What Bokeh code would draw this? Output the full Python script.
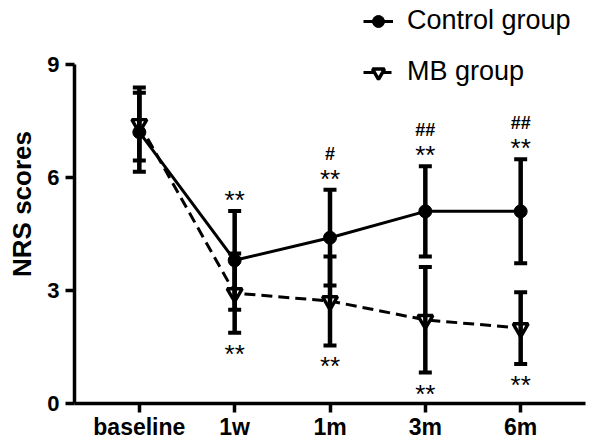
from bokeh.plotting import figure
from bokeh.models import (ColumnDataSource, FactorRange, FixedTicker, Legend, LegendItem)
from bokeh.core.properties import value
from bokeh.embed import file_html
from bokeh.resources import INLINE

categories = ["baseline", "1w", "1m", "3m", "6m"]
control_mean = [7.2, 3.8, 4.4, 5.1, 5.1]
control_sd = [1.05, 1.31, 1.27, 1.2, 1.38]
mb_mean = [7.42, 2.93, 2.72, 2.22, 2.0]
mb_sd = [0.97, 1.05, 1.18, 1.4, 0.95]
sig_top = ["**", "**", "**", "**"]
sig_hash = ["#", "##", "##"]
sig_bottom = ["**", "**", "**", "**"]

FONT = "Liberation Sans"

p = figure(width=589, height=442, output_backend="svg", toolbar_location=None,
           x_range=FactorRange(factors=categories, range_padding=0.18,
                               range_padding_units="absolute"),
           y_range=(0, 10.59), min_border_left=74, min_border_right=4,
           min_border_top=4, min_border_bottom=39)
p.outline_line_color = None
p.xgrid.grid_line_color = None
p.ygrid.grid_line_color = None
p.background_fill_color = "white"

mb_src = ColumnDataSource(dict(x=categories, y=mb_mean))
ctl_src = ColumnDataSource(dict(x=categories, y=control_mean))

mb_line = p.line(x="x", y="y", source=mb_src, line_color="black",
                 line_width=3, line_dash="11 6")
ctl_line = p.line(x="x", y="y", source=ctl_src, line_color="black", line_width=3)
mb_mark = p.scatter(x="x", y="y", source=mb_src, marker="inverted_triangle",
                    size=15, fill_color="white", line_color="black", line_width=3.4)
ctl_mark = p.scatter(x="x", y="y", source=ctl_src, marker="circle", size=13,
                     fill_color="black", line_color="black")

# error bars
for means, sds in ((control_mean, control_sd), (mb_mean, mb_sd)):
    up = [m + s for m, s in zip(means, sds)]
    lo = [m - s for m, s in zip(means, sds)]
    src = ColumnDataSource(dict(x=categories, up=up, lo=lo))
    p.segment(x0="x", y0="lo", x1="x", y1="up", source=src,
              line_color="black", line_width=4.5)
    p.scatter(x="x", y="up", source=src, marker="dash", size=13,
              line_color="black", line_width=4)
    p.scatter(x="x", y="lo", source=src, marker="dash", size=13,
              line_color="black", line_width=4)

# significance marks
top_y = [m + s for m, s in zip(control_mean[1:], control_sd[1:])]
p.text(x=categories[1:], y=top_y, text=sig_top, text_font=value(FONT),
       text_font_size="26px", text_align="center", text_baseline="middle",
       y_offset=-11, text_color="black")
hash_y = [m + s for m, s in zip(control_mean[2:], control_sd[2:])]
p.text(x=categories[2:], y=hash_y, text=sig_hash, text_font=value(FONT),
       text_font_size="18px", text_font_style="bold", text_align="center",
       text_baseline="middle", y_offset=-36, text_color="black")
bot_y = [m - s for m, s in zip(mb_mean[1:], mb_sd[1:])]
p.text(x=categories[1:], y=bot_y, text=sig_bottom, text_font=value(FONT),
       text_font_size="26px", text_align="center", text_baseline="middle",
       y_offset=21, text_color="black")

# axes
for ax in (p.xaxis[0], p.yaxis[0]):
    ax.axis_line_width = 3.5
    ax.major_tick_line_width = 3.5
    ax.major_tick_out = 9
    ax.major_tick_in = 0
    ax.minor_tick_line_color = None
    ax.major_label_text_font = FONT
    ax.major_label_text_font_style = "bold"
    ax.major_label_text_font_size = "23px"
    ax.major_label_text_color = "black"
    ax.axis_line_color = "black"
    ax.major_tick_line_color = "black"
p.yaxis.ticker = FixedTicker(ticks=[0, 3, 6, 9])
p.yaxis.bounds = (0, 9)
p.yaxis.major_label_text_font_size = "22px"
p.yaxis.major_label_standoff = 6
p.xaxis.major_label_standoff = 1
p.yaxis.axis_label = "NRS scores"
p.yaxis.axis_label_text_font = FONT
p.yaxis.axis_label_text_font_style = "bold"
p.yaxis.axis_label_text_font_size = "26px"
p.yaxis.axis_label_text_color = "black"
p.yaxis.axis_label_standoff = 7

legend = Legend(items=[
    LegendItem(label="Control group", renderers=[ctl_line, ctl_mark]),
    LegendItem(label="MB group", renderers=[mb_line, mb_mark]),
], location=(289, 316), padding=0, margin=0, spacing=20,
    label_height=30, glyph_height=30, glyph_width=30, label_standoff=14,
    label_text_font=FONT, label_text_font_size="27px", label_text_color="black",
    border_line_color=None, background_fill_alpha=0)
p.add_layout(legend, "center")

open("out.html", "w").write(file_html(p, INLINE))
